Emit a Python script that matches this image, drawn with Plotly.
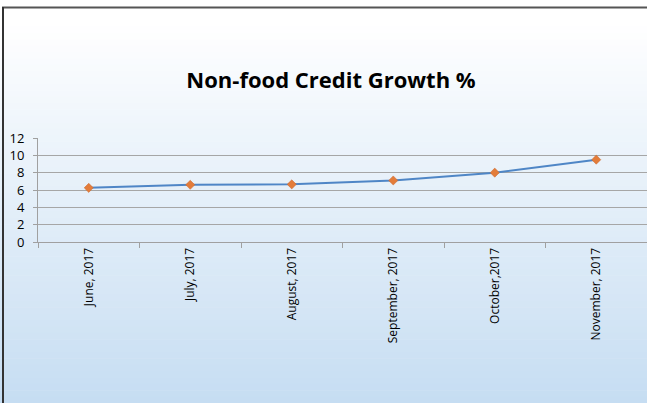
import plotly.graph_objects as go

months = ["June, 2017", "July, 2017", "August, 2017", "September, 2017", "October,2017", "November, 2017"]
growth = [6.25, 6.6, 6.65, 7.1, 8.0, 9.5]
y_ticks = [0, 2, 4, 6, 8, 10, 12]
title = "Non-food Credit Growth %"

W, H = 647, 403
L, R, T, B = 38, 0, 138, 161
pw = W - L - R
ph = H - T - B

def px2x(px):
    return (px - L) / pw

def py2y(py):
    return (H - B - py) / ph

fig = go.Figure()
fig.add_trace(go.Scatter(
    x=months, y=growth, mode="lines+markers",
    line=dict(color="#4f86c6", width=2),
    marker=dict(symbol="diamond", size=7, color="#e37c3a",
                line=dict(color="#c9652a", width=0.5)),
    showlegend=False,
))

shapes = []
# gradient background
n = 60
top_c = (255, 255, 255)
bot_c = (198, 221, 242)
y_start, y_end = 20, 403
for i in range(n):
    y0 = y_start + (y_end - y_start) * i / n
    y1 = y_start + (y_end - y_start) * (i + 1) / n + 0.5
    t = (i + 0.5) / n
    c = tuple(int(round(top_c[k] + (bot_c[k] - top_c[k]) * t)) for k in range(3))
    shapes.append(dict(type="rect", xref="paper", yref="paper",
                       x0=px2x(0), x1=px2x(W), y0=py2y(y1), y1=py2y(y0),
                       fillcolor="rgb(%d,%d,%d)" % c, line=dict(width=0), layer="below"))
# frame lines
shapes.append(dict(type="line", xref="paper", yref="paper",
                   x0=px2x(2), x1=px2x(W), y0=py2y(7.5), y1=py2y(7.5),
                   line=dict(color="#555555", width=2), layer="above"))
shapes.append(dict(type="line", xref="paper", yref="paper",
                   x0=px2x(3), x1=px2x(3), y0=py2y(7), y1=py2y(H),
                   line=dict(color="#333333", width=2), layer="above"))

fig.update_layout(
    width=W, height=H,
    margin=dict(l=L, r=R, t=T, b=B),
    paper_bgcolor="white",
    plot_bgcolor="rgba(0,0,0,0)",
    shapes=shapes,
    title=dict(text="<b>" + title + "</b>", x=(331) / W, xanchor="center",
               y=1 - 80 / H, yanchor="middle",
               font=dict(family="Open Sans", size=22, color="black")),
    xaxis=dict(
        type="category", range=[-0.5, 5.5], tickangle=-90,
        tickson="boundaries", ticks="outside", ticklen=5, tickcolor="#a0a0a0",
        showline=True, linecolor="#a0a0a0", linewidth=1,
        showgrid=False,
        tickfont=dict(family="Open Sans", size=12, color="black"),
    ),
    yaxis=dict(
        range=[0, 12], tickvals=y_ticks, ticks="outside", ticklen=4,
        tickcolor="#a0a0a0", showline=True, linecolor="#a0a0a0", linewidth=1,
        showgrid=True, gridcolor="#a6a6a6", gridwidth=1, zeroline=False,
        ticklabelstandoff=6,
        tickfont=dict(family="Open Sans", size=13, color="black"),
    ),
)

fig.write_html("out.html", config={"displayModeBar": False},
               post_script="document.body.style.margin='0';document.body.style.overflow='hidden';")
